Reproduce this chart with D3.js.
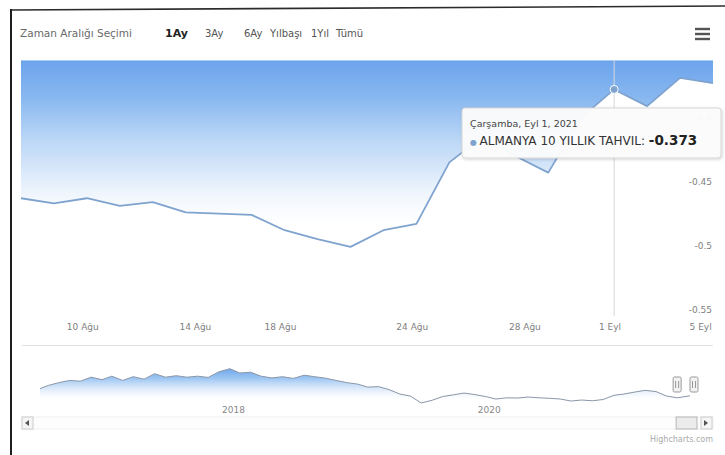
<!DOCTYPE html>
<html>
<head>
<meta charset="utf-8">
<script src="https://cdn.jsdelivr.net/npm/d3@7"></script>
<style>
  html, body { margin: 0; padding: 0; background: #fff; }
  svg { display: block; font-family: "DejaVu Sans", Verdana, sans-serif; }
</style>
</head>
<body>
<svg id="chart" width="725" height="455"></svg>
<script>
// Germany 10-year bund yield, last month of trading days
const tradeDates = [
  "2021-08-06","2021-08-09","2021-08-10","2021-08-11","2021-08-12","2021-08-13",
  "2021-08-16","2021-08-17","2021-08-18","2021-08-19","2021-08-20",
  "2021-08-23","2021-08-24","2021-08-25","2021-08-26","2021-08-27",
  "2021-08-30","2021-08-31","2021-09-01","2021-09-02","2021-09-03","2021-09-06"
];
const yields = [
  -0.458, -0.462, -0.458, -0.464, -0.461, -0.469,
  -0.470, -0.471, -0.483, -0.490, -0.496,
  -0.483, -0.478, -0.430, -0.410, -0.425,
  -0.438, -0.395, -0.373, -0.386, -0.364, -0.368
];

// x-axis ticks (calendar days) and labels
const xTickDates = ["2021-08-10","2021-08-14","2021-08-18","2021-08-24","2021-08-28","2021-09-01","2021-09-05"];
const xTickLabels = ["10 Ağu","14 Ağu","18 Ağu","24 Ağu","28 Ağu","1 Eyl","5 Eyl"];
const yTicks = [-0.55, -0.5, -0.45, -0.4];

// range selector
const rangeButtons = ["1Ay", "3Ay", "6Ay", "Yılbaşı", "1Yıl", "Tümü"];
const activeButton = "1Ay";

// hovered point
const hoverDate = "2021-09-01";
const hoverHeader = "Çarşamba, Eyl 1, 2021";
const seriesName = "ALMANYA 10 YILLIK TAHVIL";

// navigator: monthly history Aug 2016 – Sep 2021
const navMonths = [
  "2016-08","2016-09","2016-10","2016-11","2016-12",
  "2017-01","2017-02","2017-03","2017-04","2017-05","2017-06","2017-07","2017-08","2017-09","2017-10","2017-11","2017-12",
  "2018-01","2018-02","2018-03","2018-04","2018-05","2018-06","2018-07","2018-08","2018-09","2018-10","2018-11","2018-12",
  "2019-01","2019-02","2019-03","2019-04","2019-05","2019-06","2019-07","2019-08","2019-09","2019-10","2019-11","2019-12",
  "2020-01","2020-02","2020-03","2020-04","2020-05","2020-06","2020-07","2020-08","2020-09","2020-10","2020-11","2020-12",
  "2021-01","2021-02","2021-03","2021-04","2021-05","2021-06","2021-07","2021-08","2021-09"
];
const navYields = [
  -0.08, 0.05, 0.16, 0.25, 0.22,
  0.38, 0.28, 0.42, 0.25, 0.40, 0.30, 0.52, 0.38, 0.44, 0.38, 0.42, 0.37,
  0.60, 0.72, 0.55, 0.58, 0.42, 0.35, 0.40, 0.33, 0.46, 0.40, 0.34, 0.25,
  0.16, 0.10, -0.02, 0.00, -0.12, -0.30, -0.38, -0.66, -0.55, -0.40, -0.33, -0.26,
  -0.32, -0.40, -0.50, -0.45, -0.46, -0.42, -0.45, -0.47, -0.50, -0.58, -0.54, -0.57,
  -0.52, -0.35, -0.30, -0.22, -0.15, -0.20, -0.38, -0.45, -0.37
];
const navYearTicks = ["2018-01-01", "2020-01-01"];

const lineColor = "#7fa3cf";
const svg = d3.select("#chart");

// frame lines
svg.append("path").attr("d", "M11,10 L725,6").attr("stroke", "#2b2b2b").attr("stroke-width", 1.6).attr("fill", "none");
svg.append("line").attr("x1", 11).attr("x2", 11).attr("y1", 9).attr("y2", 455)
  .attr("stroke", "#1e1e1e").attr("stroke-width", 2);

// ---------- range selector ----------
svg.append("text").attr("x", 20).attr("y", 37).attr("font-size", 10.5).attr("fill", "#6a6a6a")
  .text("Zaman Aralığı Seçimi");
const btnX = [165, 205, 244, 270, 311, 336];
rangeButtons.forEach((b, i) => {
  svg.append("text").attr("x", btnX[i]).attr("y", 37)
    .attr("font-size", b === activeButton ? 11 : 10)
    .attr("font-weight", b === activeButton ? "bold" : "normal")
    .attr("fill", b === activeButton ? "#222" : "#555").text(b);
});
// export menu icon
[29, 34, 39].forEach(yy => {
  svg.append("line").attr("x1", 695).attr("x2", 710).attr("y1", yy).attr("y2", yy)
    .attr("stroke", "#555").attr("stroke-width", 2.4);
});

// ---------- main plot ----------
const plot = { left: 21, right: 713, top: 60, bottom: 316 };
const hour = 3;
const parseDay = d3.timeParse("%Y-%m-%d");
const stamp = s => { const d = parseDay(s); d.setHours(hour); return d; };
const points = tradeDates.map((d, i) => ({ t: stamp(d), v: yields[i], i }));

// ordinal axis: time -> trading-day index (piecewise), index -> pixels
const timeToIdx = d3.scaleLinear().domain(points.map(p => p.t)).range(points.map(p => p.i)).clamp(true);
const x = d3.scaleLinear().domain([0, points.length - 1]).range([plot.left, plot.right]);
const y = d3.scaleLinear().domain([-0.55, -0.35]).range([plot.bottom, plot.top]);

const defs = svg.append("defs");
const g1 = defs.append("linearGradient").attr("id", "mainFill")
  .attr("gradientUnits", "userSpaceOnUse").attr("x1", 0).attr("x2", 0)
  .attr("y1", plot.top).attr("y2", 235);
[[0, "#6ba3ec", 1], [0.22, "#89b8f0", 1], [0.45, "#bad6f6", 1], [0.7, "#e4effb", 1], [1, "#ffffff", 0]]
  .forEach(([o, c, a]) => g1.append("stop").attr("offset", o).attr("stop-color", c).attr("stop-opacity", a));

const shadow = defs.append("filter").attr("id", "tipShadow").attr("x", "-10%").attr("y", "-30%")
  .attr("width", "120%").attr("height", "170%");
shadow.append("feDropShadow").attr("dx", 1).attr("dy", 1).attr("stdDeviation", 1.5)
  .attr("flood-color", "#000").attr("flood-opacity", 0.18);

// area toward the zero threshold (above the line, clipped at plot top)
svg.append("path").datum(points)
  .attr("d", d3.area().x(p => x(p.i)).y0(plot.top).y1(p => y(p.v)))
  .attr("fill", "url(#mainFill)");
svg.append("line").attr("x1", plot.left).attr("x2", plot.right).attr("y1", plot.top + 0.5).attr("y2", plot.top + 0.5)
  .attr("stroke", "#a9cdf3").attr("stroke-width", 1);

// y-axis labels (right side, above gridline)
yTicks.forEach(v => {
  svg.append("text").attr("x", 712).attr("y", y(v) - 3).attr("text-anchor", "end")
    .attr("font-size", 9).attr("fill", "#808080").text(v);
});

// x-axis labels
xTickDates.forEach((d, k) => {
  const t = parseDay(d);
  svg.append("text").attr("x", x(timeToIdx(t))).attr("y", 330).attr("text-anchor", "middle")
    .attr("font-size", 9).attr("fill", "#808080").text(xTickLabels[k]);
});

// crosshair
const hp = points.find(p => d3.timeFormat("%Y-%m-%d")(p.t) === hoverDate);
svg.append("line").attr("x1", x(hp.i)).attr("x2", x(hp.i)).attr("y1", plot.top).attr("y2", plot.bottom)
  .attr("stroke", "#d6d9de").attr("stroke-width", 1);

// series line
svg.append("path").datum(points)
  .attr("d", d3.line().x(p => x(p.i)).y(p => y(p.v)))
  .attr("fill", "none").attr("stroke", lineColor).attr("stroke-width", 1.8).attr("stroke-linejoin", "round");

// hover marker
svg.append("circle").attr("cx", x(hp.i)).attr("cy", y(hp.v)).attr("r", 4)
  .attr("fill", lineColor).attr("stroke", "#fff").attr("stroke-width", 1);

// tooltip
const tip = svg.append("g").attr("transform", "translate(462,108)");
tip.append("rect").attr("width", 259).attr("height", 50).attr("rx", 3)
  .attr("fill", "rgba(252,252,252,0.96)").attr("stroke", "#d6d6d6").attr("filter", "url(#tipShadow)");
tip.append("text").attr("x", 8).attr("y", 19).attr("font-size", 9.5).attr("fill", "#444").text(hoverHeader);
const tl = tip.append("text").attr("x", 8).attr("y", 37);
tl.append("tspan").attr("fill", lineColor).attr("font-size", 8).text("● ");
tl.append("tspan").attr("font-size", 12).attr("fill", "#333").text(seriesName + ": ");
tl.append("tspan").attr("font-size", 13.5).attr("font-weight", "bold").attr("fill", "#222").text(hp.v.toFixed(3));

// ---------- navigator ----------
const nav = { left: 40, right: 690, top: 368, bottom: 404 };
svg.append("line").attr("x1", 22).attr("x2", 713).attr("y1", 345.5).attr("y2", 345.5)
  .attr("stroke", "#e3e3e3").attr("stroke-width", 1);

const navPts = navMonths.map((m, i) => ({ t: d3.timeParse("%Y-%m")(m), v: navYields[i] }));
navPts[0].t = parseDay("2016-08-08");
navPts[navPts.length - 1].t = parseDay("2021-09-06");
const nx = d3.scaleTime().domain([navPts[0].t, navPts[navPts.length - 1].t]).range([nav.left, nav.right]);
const ny = d3.scaleLinear().domain([-0.7, 0.75]).range([nav.bottom, nav.top]);

const g2 = defs.append("linearGradient").attr("id", "navFill")
  .attr("gradientUnits", "userSpaceOnUse").attr("x1", 0).attr("x2", 0).attr("y1", 366).attr("y2", 402);
[[0, "#5f9ce9", 1], [0.35, "#8dbcf0", 0.85], [0.7, "#cfe2f8", 0.5], [1, "#ffffff", 0]]
  .forEach(([o, c, a]) => g2.append("stop").attr("offset", o).attr("stop-color", c).attr("stop-opacity", a));

svg.append("path").datum(navPts)
  .attr("d", d3.area().x(p => nx(p.t)).y0(nav.bottom).y1(p => ny(p.v)))
  .attr("fill", "url(#navFill)");
svg.append("path").datum(navPts)
  .attr("d", d3.line().x(p => nx(p.t)).y(p => ny(p.v)))
  .attr("fill", "none").attr("stroke", "#8a97a8").attr("stroke-width", 1);

navYearTicks.forEach(d => {
  const t = parseDay(d);
  svg.append("text").attr("x", nx(t) + 3).attr("y", 413).attr("font-size", 9).attr("fill", "#888")
    .text(d3.timeFormat("%Y")(t));
});

// navigator handles around the selected month
const selStart = nx(parseDay(tradeDates[0])), selEnd = nx(parseDay(tradeDates[tradeDates.length - 1]));
[selStart - 2, selEnd + 4].forEach(hx => {
  const h = svg.append("g").attr("transform", `translate(${hx},377)`);
  h.append("rect").attr("x", -4).attr("width", 8).attr("height", 15).attr("rx", 1.5)
    .attr("fill", "#f2f2f2").attr("stroke", "#999");
  [-1.5, 1.5].forEach(dx => h.append("line").attr("x1", dx).attr("x2", dx).attr("y1", 4).attr("y2", 11)
    .attr("stroke", "#999"));
});

// scrollbar
svg.append("rect").attr("x", 22).attr("y", 417).attr("width", 691).attr("height", 12)
  .attr("fill", "#fdfdfd").attr("stroke", "#f0f0f0");
svg.append("rect").attr("x", selStart - 3).attr("y", 417).attr("width", selEnd - selStart + 10).attr("height", 12)
  .attr("fill", "#ececec").attr("stroke", "#b5b5b5");
[[22, "M29,420 L25,423 L29,426 Z"], [701, "M704,420 L708,423 L704,426 Z"]].forEach(([bx, arrow]) => {
  svg.append("rect").attr("x", bx).attr("y", 417).attr("width", 11).attr("height", 12)
    .attr("fill", "#f5f5f5").attr("stroke", "#ccc");
  svg.append("path").attr("d", arrow).attr("fill", "#555");
});

// credits
svg.append("text").attr("x", 713).attr("y", 442).attr("text-anchor", "end").attr("font-size", 8)
  .attr("fill", "#aaa").text("Highcharts.com");
</script>
</body>
</html>
